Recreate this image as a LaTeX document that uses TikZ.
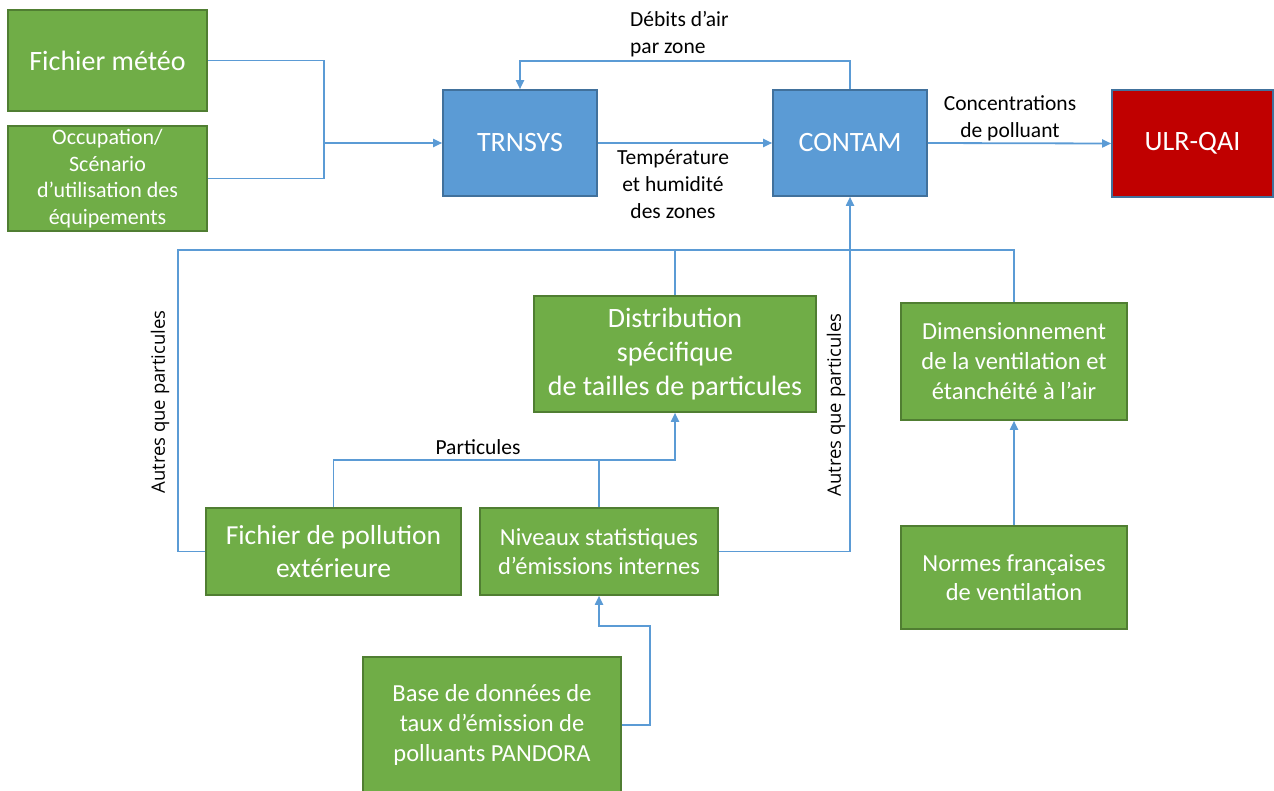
\documentclass[tikz,border=0pt]{standalone}
\usepackage{fontspec}
\setmainfont{Carlito}
\newfontfamily\osans{Open Sans}
\usetikzlibrary{arrows.meta}
\definecolor{gfill}{HTML}{70AD47}
\definecolor{gdraw}{HTML}{507E32}
\definecolor{bfill}{HTML}{5B9BD5}
\definecolor{bdraw}{HTML}{41719C}
\definecolor{rfill}{HTML}{C00000}
\definecolor{lcol}{HTML}{5B9BD5}
\begin{document}
\begin{tikzpicture}[x=1pt,y=-1pt,
  gbox/.style={draw=gdraw, fill=gfill, line width=1.6pt, text=white, align=center, inner sep=0pt},
  bbox/.style={draw=bdraw, fill=bfill, line width=1.6pt, text=white, align=center, inner sep=0pt},
  rbox/.style={draw=bdraw, fill=rfill, line width=1.6pt, text=white, align=center, inner sep=0pt},
  conn/.style={draw=lcol, line width=1.8pt},
  arr/.style={conn, -{Triangle[length=9pt,width=8pt]}},
  lbl/.style={text=black, align=center, inner sep=0pt, font=\fontsize{21.5}{27}\selectfont},
  rlbl/.style={text=black, inner sep=0pt, rotate=90, font=\osans\fontsize{18.5}{22}\selectfont}
]
\useasboundingbox (0,0) rectangle (1274,790);
\clip (0,0) rectangle (1274,790);

% boxes
\node[gbox, minimum width=199pt, minimum height=101pt, font=\fontsize{28}{34}\selectfont] (meteo) at (107.5,60.5) {Fichier météo};
\node[gbox, minimum width=199pt, minimum height=105pt, font=\fontsize{22}{26.5}\selectfont] (occ) at (107.5,178.5) {Occupation/\\Scénario\\d’utilisation des\\équipements};
\node[bbox, minimum width=154pt, minimum height=106pt, font=\fontsize{28}{34}\selectfont] (trnsys) at (520,143) {TRNSYS};
\node[bbox, minimum width=154pt, minimum height=106pt, font=\fontsize{28}{34}\selectfont] (contam) at (850,143) {CONTAM};
\node[rbox, minimum width=161pt, minimum height=107pt, font=\fontsize{28}{34}\selectfont] (ulr) at (1192.5,143.5) {ULR-QAI};
\node[gbox, minimum width=282pt, minimum height=116pt, font=\fontsize{28}{34}\selectfont] (distr) at (675,354) {Distribution\\spécifique\\de tailles de particules};
\node[gbox, minimum width=226pt, minimum height=117pt, font=\fontsize{24.5}{30}\selectfont] (dimens) at (1014,361.5) {Dimensionnement\\de la ventilation et\\étanchéité à l’air};
\node[gbox, minimum width=255pt, minimum height=87pt, font=\fontsize{27.5}{33}\selectfont] (pollext) at (333.5,551.5) {Fichier de pollution\\extérieure};
\node[gbox, minimum width=238pt, minimum height=87pt, font=\fontsize{24.5}{29}\selectfont] (niveaux) at (599,551.5) {Niveaux statistiques\\d’émissions internes};
\node[gbox, minimum width=226pt, minimum height=103pt, font=\fontsize{24.5}{29}\selectfont] (normes) at (1014,577.5) {Normes françaises\\de ventilation};
\node[gbox, minimum width=258pt, minimum height=136pt, font=\fontsize{24.5}{30}\selectfont] (pandora) at (492,725) {Base de données de\\taux d’émission de\\polluants PANDORA};

% junction coordinates
\coordinate (j1) at (324,143);
\coordinate (b) at (850,250);
\coordinate (bl) at (178,250);
\coordinate (pj) at (675,460);
\coordinate (q) at (650,626);

% connectors
\draw[conn] (meteo.east) -| (j1);
\draw[conn] (occ.east) -| (j1);
\draw[arr] (j1) -- (trnsys.west);
\draw[arr] (trnsys.east) -- (contam.west);
\draw[arr] (contam.north) -- ++(0,-28) -| (trnsys.north);
\draw[arr] (contam.east) -- (ulr.west);
\draw[arr] (b) -- (contam.south);
\draw[conn] (pollext.west) -| (bl) -- (b);
\draw[conn] (distr.north) |- (b);
\draw[conn] (dimens.north) |- (b);
\draw[conn] (niveaux.east) -| (b);
\draw[arr] (pollext.north) |- (pj) -- (distr.south);
\draw[conn] (niveaux.north) -- (niveaux.north |- pj);
\draw[arr] (normes.north) -- (dimens.south);
\draw[arr] (pandora.east) -| (q) -| (niveaux.south);

% labels
\node[lbl, align=left, anchor=west] (ldebit) at (630,34) {Débits d’air\\par zone};
\node[lbl] (ltemp) at (673,184) {Température\\et humidité\\des zones};
\node[lbl] (lconc) at (1010,118.5) {Concentrations\\de polluant};
\node[lbl] (lpart) at (478,447) {Particules};
\node[rlbl] (lautres1) at (160,402) {Autres que particules};
\node[rlbl] (lautres2) at (836,405) {Autres que particules};
\end{tikzpicture}
\end{document}
